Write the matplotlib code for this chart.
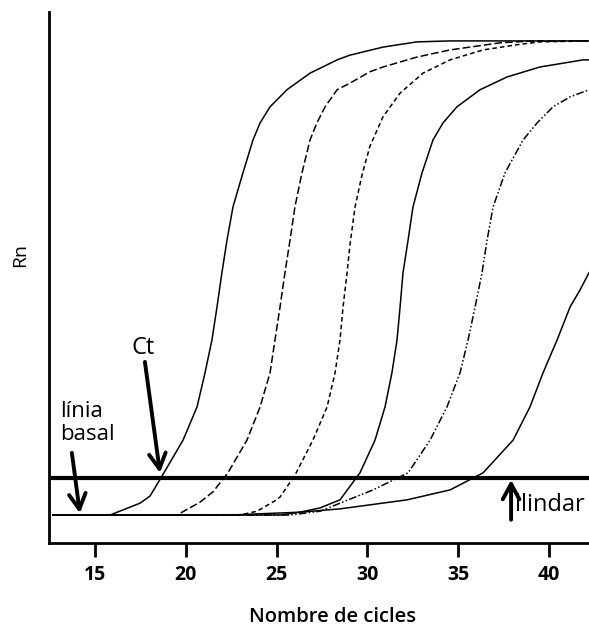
import matplotlib
matplotlib.use("Agg")
import matplotlib.pyplot as plt

plt.rcParams['font.family'] = ['Open Sans', 'DejaVu Sans']

# amplification curves (cycle, Rn)
c1_x = [12.69, 15.83, 17.48, 18.03, 18.69, 19.85, 20.62, 21.06, 21.44, 21.72, 21.99, 22.27, 22.60, 23.15,
        23.70, 24.09, 24.64, 25.57, 26.84, 28.33, 29.04, 30.86, 32.73, 34.55, 42.2]
c1_y = [0.0, 0.0, 0.025, 0.040, 0.082, 0.158, 0.228, 0.300, 0.369, 0.439, 0.511, 0.580, 0.650, 0.722,
        0.791, 0.827, 0.861, 0.897, 0.932, 0.960, 0.970, 0.987, 0.998, 1.0, 1.0]

c2_x = [12.69, 19.52, 20.78, 21.50, 22.32, 23.37, 24.09, 24.64, 24.91, 25.19, 25.46, 25.74, 26.01, 26.40,
        26.84, 27.22, 27.67, 28.33, 29.04, 30.14, 30.86, 32.73, 34.55, 37.30, 39.12, 42.2]
c2_y = [0.0, 0.0, 0.027, 0.049, 0.089, 0.158, 0.228, 0.300, 0.369, 0.439, 0.511, 0.580, 0.650, 0.722,
        0.791, 0.827, 0.861, 0.897, 0.911, 0.935, 0.945, 0.966, 0.981, 0.996, 1.0, 1.0]

c3_x = [12.69, 22.98, 23.92, 24.91, 25.19, 26.01, 27.00, 27.78, 28.22, 28.49, 28.66, 28.88, 29.04, 29.32,
        29.70, 30.14, 30.86, 31.80, 33.06, 34.55, 36.37, 38.24, 39.50, 42.2]
c3_y = [0.0, 0.0, 0.008, 0.030, 0.038, 0.084, 0.158, 0.228, 0.300, 0.369, 0.439, 0.511, 0.570, 0.650,
        0.717, 0.778, 0.840, 0.890, 0.932, 0.960, 0.981, 0.992, 0.998, 1.0]

c4_x = [12.69, 25.19, 26.29, 27.39, 28.49, 29.59, 30.42, 30.97, 31.35, 31.63, 31.80, 31.96, 32.24, 32.51,
        33.01, 33.61, 34.16, 34.93, 36.20, 37.69, 39.50, 41.87, 42.2]
c4_y = [0.0, 0.0, 0.006, 0.015, 0.032, 0.089, 0.158, 0.228, 0.300, 0.369, 0.439, 0.511, 0.580, 0.650,
        0.722, 0.791, 0.827, 0.861, 0.897, 0.924, 0.945, 0.960, 0.960]

c5_x = [12.69, 25.74, 27.39, 28.49, 30.31, 32.24, 33.45, 34.38, 35.10, 35.54, 35.93, 36.31, 36.59, 36.92,
        37.58, 38.57, 39.34, 40.22, 41.16, 42.2]
c5_y = [0.0, 0.0, 0.008, 0.025, 0.053, 0.089, 0.158, 0.228, 0.300, 0.369, 0.439, 0.511, 0.580, 0.650,
        0.722, 0.791, 0.827, 0.861, 0.882, 0.897]

c6_x = [12.69, 22.43, 26.29, 28.49, 32.18, 34.55, 36.37, 38.02, 38.95, 39.67, 40.44, 41.16, 41.71, 42.2]
c6_y = [0.0, 0.0, 0.006, 0.013, 0.032, 0.053, 0.089, 0.158, 0.228, 0.300, 0.369, 0.439, 0.475, 0.511]

threshold = 0.078
x_ticks = [15, 20, 25, 30, 35, 40]

fig = plt.figure(figsize=(5.89, 6.29), dpi=100)
ax = fig.add_axes([49 / 589, 1 - 543 / 629, 1 - 49 / 589, (543 - 12) / 629])

lw = 1.1
ax.plot(c1_x, c1_y, color='black', lw=lw)
ax.plot(c2_x, c2_y, color='black', lw=lw, dashes=(5, 2))
ax.plot(c3_x, c3_y, color='black', lw=lw, dashes=(3, 2))
ax.plot(c4_x, c4_y, color='black', lw=lw)
ax.plot(c5_x, c5_y, color='black', lw=lw, dashes=(5, 1.5, 1, 1.5, 1, 1.5))
ax.plot(c6_x, c6_y, color='black', lw=lw)

# threshold line
ax.plot([12.69, 42.2], [threshold, threshold], color='black', lw=3)

ax.set_xlim(12.47, 42.2)
ax.set_ylim(-0.059, 1.061)

ax.spines['top'].set_visible(False)
ax.spines['right'].set_visible(False)
ax.spines['left'].set_linewidth(2)
ax.spines['bottom'].set_linewidth(2)

ax.set_xticks(x_ticks)
ax.set_xticklabels([str(t) for t in x_ticks], fontsize=14, fontweight='bold')
ax.tick_params(axis='x', direction='out', length=10, width=2, pad=6)
ax.set_yticks([])

fig.text(333 / 589, 2 / 629, "Nombre de cicles", fontsize=14.5, fontweight='semibold',
         ha='center', va='bottom')
fig.text(20 / 589, 1 - 255 / 629, "Rn", fontsize=14, fontweight='medium', rotation=90,
         ha='center', va='center')

arrow = dict(arrowstyle='->,head_length=0.55,head_width=0.3', color='black', lw=2.8,
             mutation_scale=20, shrinkA=0, shrinkB=0)
ax.annotate("", xy=(18.58, 0.089), xytext=(17.75, 0.323), arrowprops=arrow)
ax.text(17.64, 0.352, "Ct", fontsize=17, ha='center', va='center')

ax.annotate("", xy=(14.17, 0.004), xytext=(13.73, 0.131), arrowprops=arrow)
ax.text(13.07, 0.194, "línia\nbasal", fontsize=16, ha='left', va='center', linespacing=1.15)

ax.annotate("", xy=(37.91, 0.074), xytext=(37.91, -0.010), arrowprops=arrow, annotation_clip=False)
ax.text(38.15, 0.022, "llindar", fontsize=17, ha='left', va='center')

fig.savefig("out.png", dpi=100)
